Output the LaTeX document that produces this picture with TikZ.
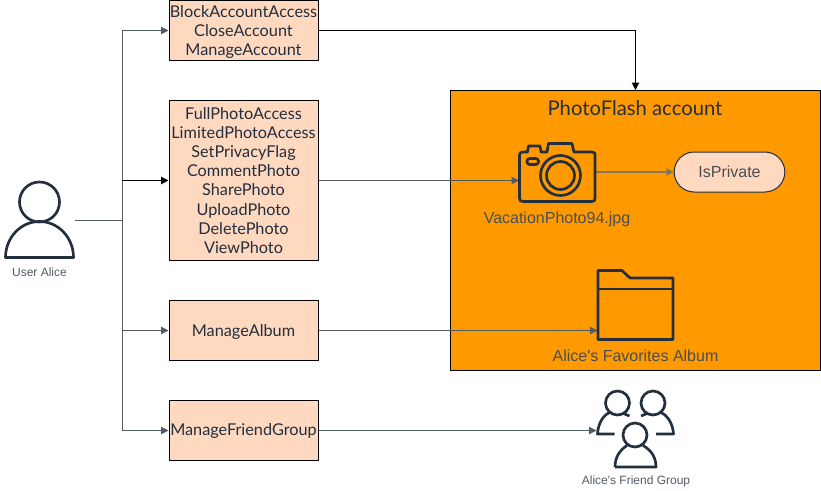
\documentclass[tikz,border=0pt]{standalone}
\usepackage{fontspec}
\setmainfont{Lato}
\newfontfamily\labelfont{Liberation Sans}
\usetikzlibrary{arrows.meta,positioning,calc}
\definecolor{peach}{HTML}{FFD8C0}
\definecolor{orng}{HTML}{FF9900}
\definecolor{inkdark}{HTML}{232F3E}
\definecolor{linegray}{HTML}{545B64}
\definecolor{labelgray}{HTML}{4A4F55}
\definecolor{blendline}{HTML}{8A7A50}
\tikzset{
  x=0.75pt,y=-0.75pt,
  actionbox/.style={draw=black,line width=0.75pt,fill=peach,minimum width=111.75pt,inner sep=0pt,align=center,text=inkdark,
     font=\fontsize{12.2}{14.3}\selectfont},
  iconslot/.style={inner sep=0pt,outer sep=0pt},
  icon/.style={draw=inkdark,line width=2pt,line join=round},
  graylink/.style={draw=linegray,line width=0.75pt,-{Triangle[length=5.5pt,width=5.5pt]}},
  graytrunk/.style={draw=linegray,line width=0.75pt},
  blacklink/.style={draw=black,line width=0.75pt,-{Triangle[length=5.5pt,width=5.5pt]}},
  labeltext/.style={font=\labelfont\fontsize{12}{14}\selectfont,text=labelgray,inner sep=0pt},
  smalltext/.style={font=\labelfont\fontsize{9}{11}\selectfont,text=linegray,inner sep=0pt},
}
\begin{document}
\begin{tikzpicture}
\useasboundingbox (0.5,0.5) rectangle (821.5,490.5);
% account
\node[draw=black,line width=0.75pt,fill=orng,minimum width=277.5pt,minimum height=210pt,inner sep=0pt,anchor=north west] (account) at (450.5,90.5) {};
\node[font=\fontsize{15.2}{18}\selectfont,text=inkdark,inner sep=0pt] (acctitle) at (635.5,108.5) {PhotoFlash account};
% action boxes
\node[actionbox,minimum height=45pt,anchor=north west] (b1) at (169,0.5) {\rule{0pt}{11pt}BlockAccountAccess\\CloseAccount\\ManageAccount};
\node[actionbox,minimum height=120pt,anchor=north west] (b2) at (169,100.5) {FullPhotoAccess\\LimitedPhotoAccess\\SetPrivacyFlag\\CommentPhoto\\SharePhoto\\UploadPhoto\\DeletePhoto\\ViewPhoto};
\node[actionbox,minimum height=45pt,anchor=north west] (b3) at (169,300.5) {\rule{0pt}{10.5pt}ManageAlbum};
\node[actionbox,minimum height=45pt,anchor=north west] (b4) at (169,400.5) {ManageFriendGroup};
% icon slots
\node[iconslot,minimum width=52pt,minimum height=60pt] (user) at (39.5,220) {};
\node[iconslot,minimum width=57.75pt,minimum height=46.5pt] (camera) at (558,172.5) {};
\node[iconslot,minimum width=57pt,minimum height=52.5pt] (folder) at (636,305) {};
\node[iconslot,minimum width=58.5pt,minimum height=58.5pt] (friends) at (636,429) {};
\node[draw=inkdark,line width=0.75pt,fill=peach,minimum width=83pt,minimum height=30pt,rounded corners=15pt,inner sep=0pt,text=labelgray,font=\labelfont\fontsize{12}{14}\selectfont] (priv) at (730,172.5) {IsPrivate};
\coordinate (trunk) at (122.5,220.5);
% connectors
\draw[graytrunk] (75.5,220.5) -- (trunk);
\draw[graylink] (trunk) |- (b1.west);
\draw[blacklink] (trunk |- b2.west) -- (b2.west);
\draw[graylink] (trunk) |- (b3.west);
\draw[graylink] (trunk) |- (b4.west);
\draw[blacklink] (b1.east) -| (account.north);
\draw[graylink] (b2.east) -- (camera.west |- b2.east);
\draw[graylink] (b3.east) -- (folder.west |- b3.east);
\draw[graylink] (b4.east) -- (friends.west |- b4.east);
\draw[draw=blendline,line width=1.2pt,-{Triangle[length=5.5pt,width=5.5pt,fill=linegray]}] (camera.east) -- (priv.west);
% user icon
\draw[icon] (40,202.5) circle (20);
\draw[icon] (6,258) arc[start angle=180,end angle=360,x radius=34,y radius=36] -- cycle;
% camera icon
\draw[icon] (523.5,152.5) -- (528,152.5) -- (529,146.5) -- (540.5,146.5) -- (541.5,152.5) -- (547.5,152.5) -- (549,144) -- (572.5,144) -- (574.5,152.5) -- (592.5,152.5)
   .. controls (595,152.5) and (595.5,153.5) .. (595.5,155.5) -- (595.5,198.5) .. controls (595.5,201) and (595,202) .. (592.5,202)
   -- (523.5,202) .. controls (521,202) and (520,201) .. (520,198.5) -- (520,155.5) .. controls (520,153.5) and (521,152.5) .. (523.5,152.5) -- cycle;
\draw[icon,rounded corners=2pt] (527.5,159) rectangle (539,165);
\draw[icon] (561,176) circle (20);
\draw[icon] (561,176) circle (14);
% folder icon
\draw[icon] (598.5,340) -- (598.5,271) -- (622.5,271) -- (630.5,278.5) -- (673.5,278.5) -- (673.5,340) -- cycle;
\draw[icon] (598.5,289.5) -- (673.5,289.5);
% friends icon
\draw[icon] (618,403.5) circle (12);
\draw[icon] (653.5,403.5) circle (12);
\draw[icon] (635.5,435.5) circle (12);
\draw[icon] (624,414) -- (630,416.5);
\draw[icon] (610,413) .. controls (602.5,416.5) and (598.5,425.5) .. (598,434.5) -- (615,434.5);
\draw[icon] (647.5,414) -- (641.5,416.5);
\draw[icon] (661.5,413) .. controls (669,416.5) and (673.5,425.5) .. (674,434.5) -- (656.5,434.5);
\draw[icon] (615.5,467.5) .. controls (615.5,457.5) and (620.5,450.5) .. (627.5,446);
\draw[icon] (643.5,446) .. controls (651.5,450.5) and (656.5,457.5) .. (656.5,467.5) -- (615.5,467.5);
% labels
\node[smalltext] (userlab) at (40,272.5) {User Alice};
\node[labeltext] (photolab) at (557.5,219.5) {VacationPhoto94.jpg};
\node[labeltext] (albumlab) at (636,356.5) {Alice's Favorites Album};
\node[smalltext] (friendlab) at (636.5,481.5) {Alice's Friend Group};
\end{tikzpicture}
\end{document}
